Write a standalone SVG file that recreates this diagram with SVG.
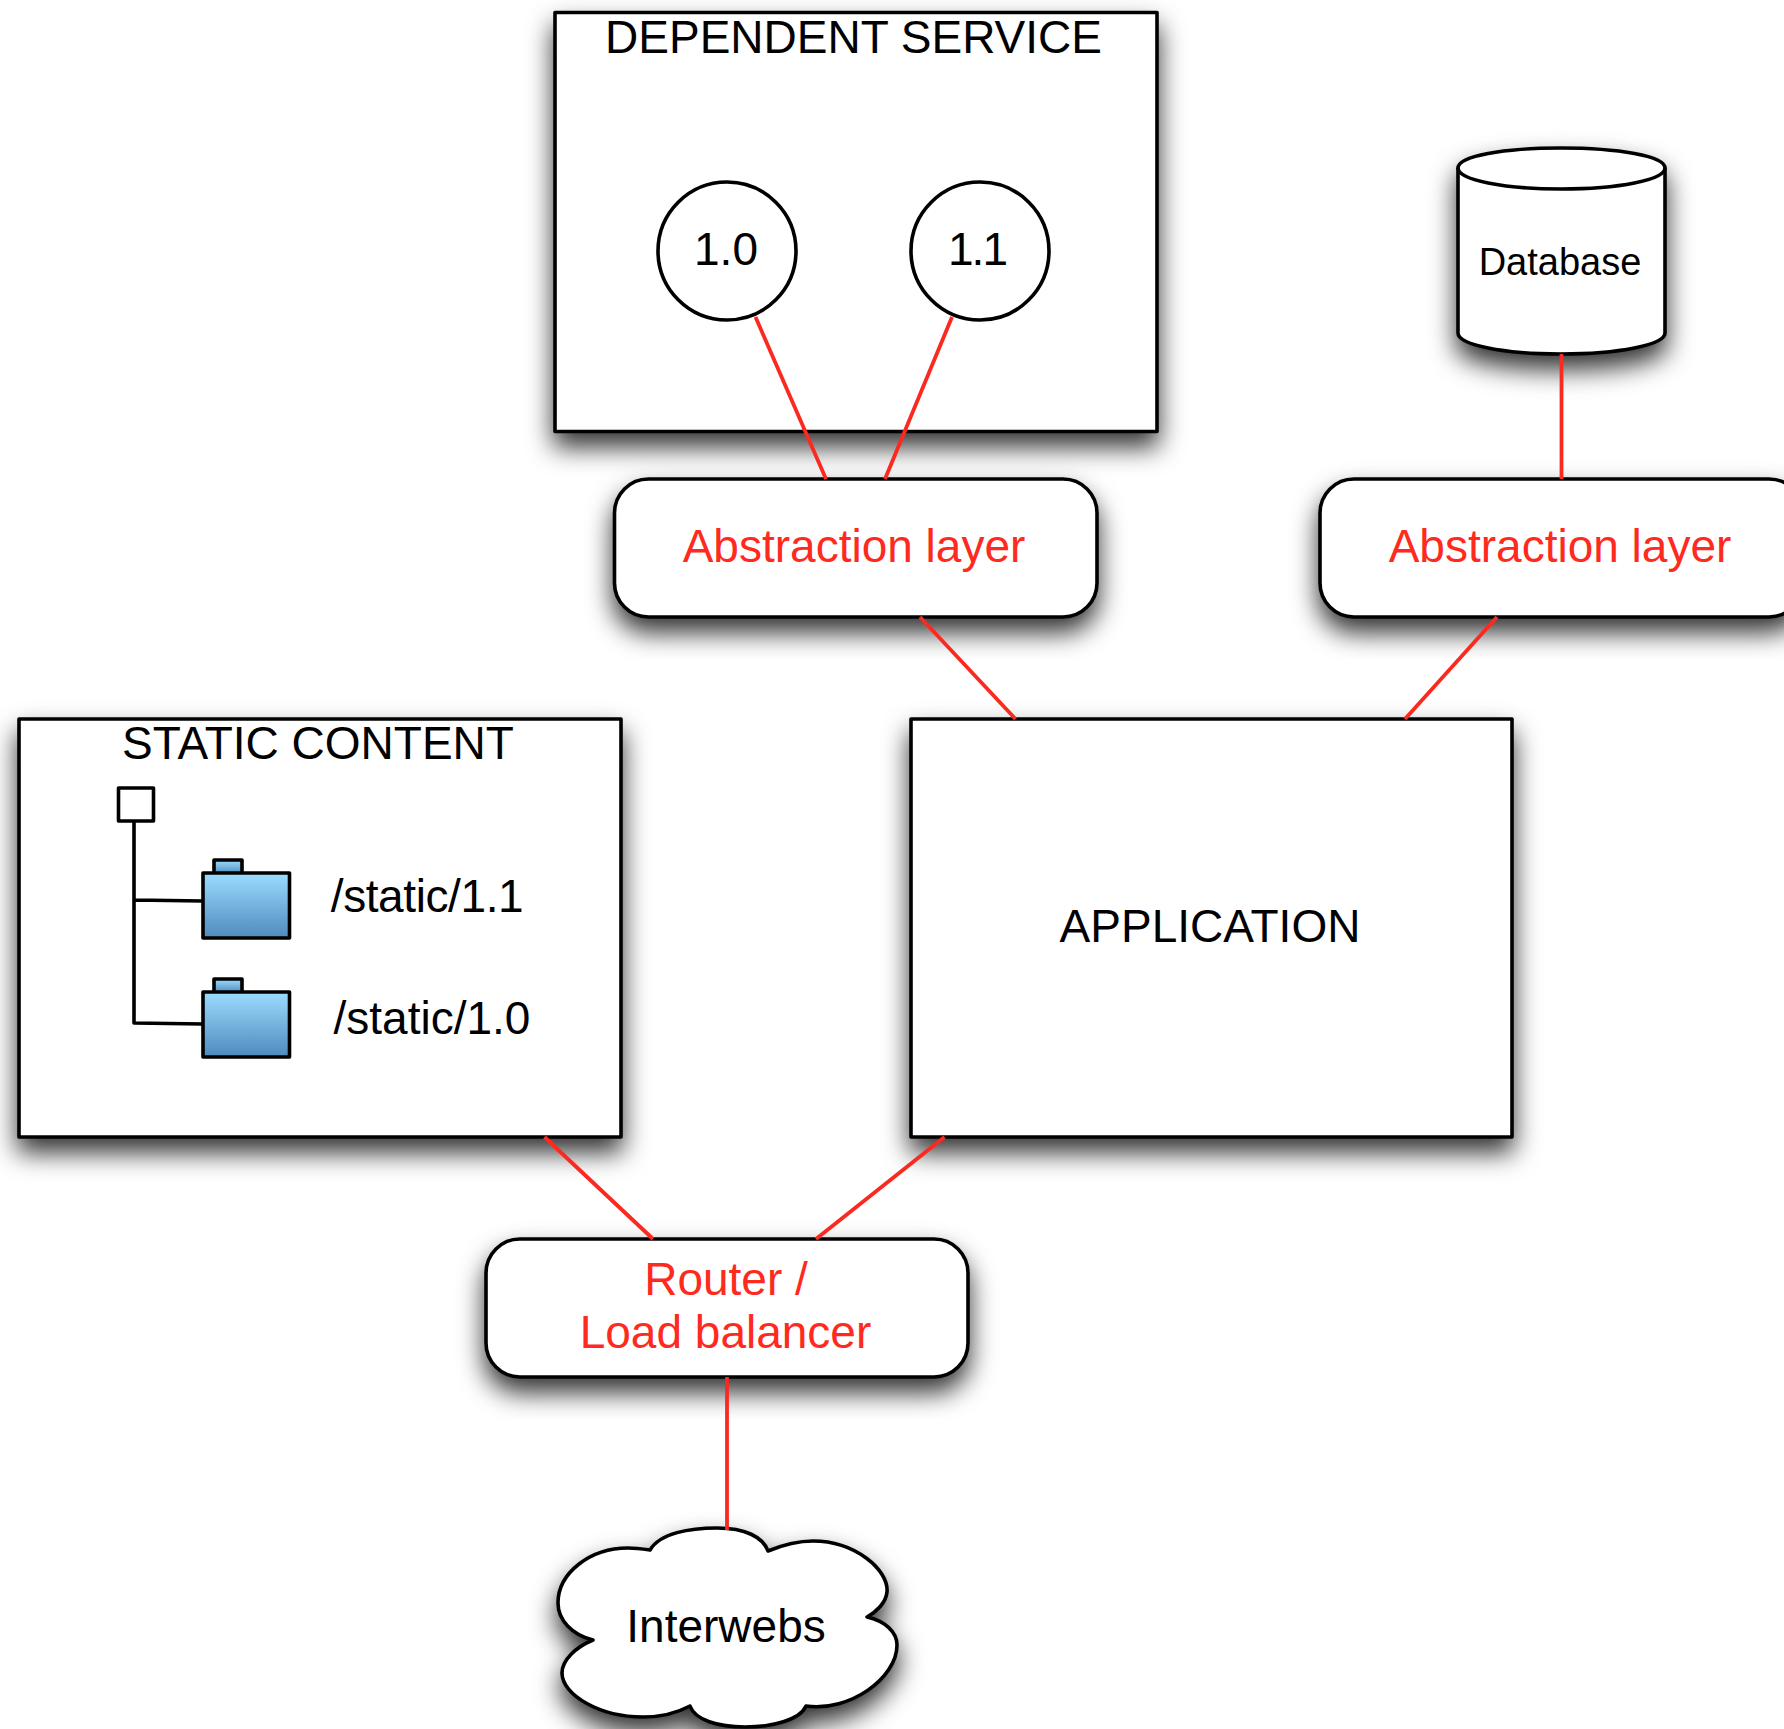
<svg xmlns="http://www.w3.org/2000/svg" width="1784" height="1729" viewBox="0 0 1784 1729">
<style>
.s{fill:#fff;stroke:#000;stroke-width:3.6;stroke-linejoin:round}
.n{fill:none;stroke:#000;stroke-width:3.6;stroke-linejoin:round}
.t{font-family:"Liberation Sans",Arial,sans-serif;fill:#000;text-anchor:middle;font-size:46px}
.r{fill:#ff2a1e}
.c{stroke:#fb2a20;stroke-width:3.8;fill:none}
.f{fill:url(#g);stroke:#000;stroke-width:3.6;stroke-linejoin:round}
</style>
<defs>
<filter id="sh" x="-20%" y="-20%" width="140%" height="150%">
<feDropShadow dx="0" dy="14" stdDeviation="13" flood-color="#000" flood-opacity="0.8"/>
</filter>
<linearGradient id="g" x1="0" y1="0" x2="0" y2="1">
<stop offset="0" stop-color="#9cdcff"/>
<stop offset="1" stop-color="#4f8abd"/>
</linearGradient>
</defs>
<rect width="1784" height="1729" fill="#fff"/>
<g id="dependent-service">
<rect class="s" x="555" y="12.5" width="602" height="419" filter="url(#sh)"/>
<text class="t" x="853.5" y="53">DEPENDENT SERVICE</text>
</g>
<g id="database">
<path class="s" filter="url(#sh)" d="M1458 168C1458 156 1504 148 1561 148C1618 148 1665 156 1665 168V333C1665 345 1618 354 1561 354C1504 354 1458 345 1458 333Z"/>
<path class="n" d="M1458 168C1458 180 1504 189 1561 189C1618 189 1665 180 1665 168"/>
<text class="t" x="1560" y="275" style="font-size:38px">Database</text>
</g>
<g id="abstraction-1">
<rect class="s" x="614.5" y="479" width="482.5" height="138" rx="34" filter="url(#sh)"/>
<text class="t r" x="854" y="562">Abstraction layer</text>
</g>
<g id="abstraction-2">
<rect class="s" x="1320" y="479" width="483" height="138" rx="34" filter="url(#sh)"/>
<text class="t r" x="1560" y="562">Abstraction layer</text>
</g>
<g id="static-content">
<rect class="s" x="19" y="719" width="602" height="418" filter="url(#sh)"/>
<text class="t" x="318" y="759">STATIC CONTENT</text>
</g>
<g id="application">
<rect class="s" x="911" y="719" width="601" height="418" filter="url(#sh)"/>
<text class="t" x="1210" y="942">APPLICATION</text>
</g>
<g id="router">
<rect class="s" x="486" y="1239" width="482" height="138" rx="34" filter="url(#sh)"/>
<text class="t r" x="726" y="1295">Router /</text>
<text class="t r" x="725.5" y="1348">Load balancer</text>
</g>
<g id="cloud">
<path class="s" filter="url(#sh)" d="M650 1550C660 1533 690 1528 717 1528C745 1528 763 1537 768 1551C785 1544 798 1541 813 1541C855 1541 889 1570 887 1592C886 1603 876 1612 867 1617C885 1621 897 1632 897 1645C897 1678 850 1712 806 1706C800 1720 772 1727 745 1727C718 1727 695 1720 690 1706C675 1714 660 1717 643 1717C600 1717 562 1695 562 1673C562 1660 576 1647 593 1640C572 1635 558 1620 558 1603C558 1573 590 1548 628 1548C636 1548 643 1549 650 1550Z"/>
<text class="t" x="726" y="1642">Interwebs</text>
</g>
<g id="circle-1-0">
<circle class="s" cx="727" cy="251" r="69"/>
<text class="t" x="726" y="265">1.0</text>
</g>
<g id="circle-1-1">
<circle class="s" cx="980" cy="251" r="69"/>
<text class="t" x="977" y="265" style="letter-spacing:-2px">1.1</text>
</g>
<g id="tree-root"><rect class="s" x="118.5" y="788" width="35" height="33"/></g>
<g id="tree-lines">
<path class="n" d="M134 821V1023L203 1024M134 900L203 901"/>
</g>
<g id="folder-1-1">
<rect class="f" x="214" y="860" width="28" height="14"/>
<rect class="f" x="203" y="873" width="86.5" height="65"/>
<text class="t" x="427" y="912" style="letter-spacing:-.4px">/static/1.1</text>
</g>
<g id="folder-1-0">
<rect class="f" x="214" y="979" width="28" height="14"/>
<rect class="f" x="203" y="992" width="86.5" height="65"/>
<text class="t" x="432" y="1034">/static/1.0</text>
</g>
<g id="connectors">
<path class="c" d="M755.5 317L826 479M952 317L885 479M1561.5 354V479M920 617L1015.5 719M1497 617L1405 719M544.5 1137L653 1239M944.5 1137L816 1239M727 1377V1530"/>
</g>
</svg>
